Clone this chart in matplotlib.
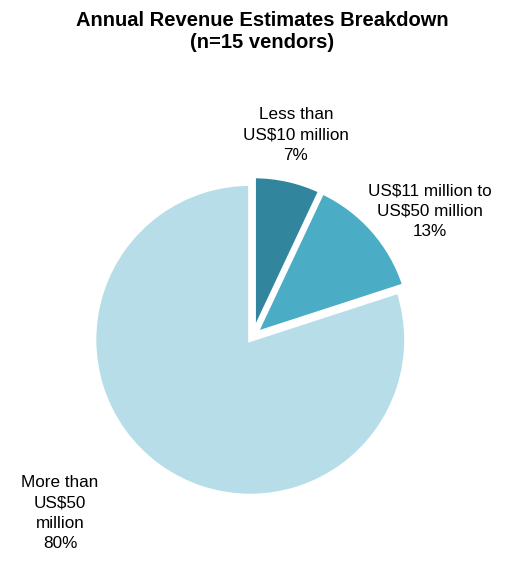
import matplotlib
matplotlib.use("Agg")
import matplotlib.pyplot as plt

plt.rcParams['font.family'] = ['Liberation Sans', 'DejaVu Sans']

categories = ["Less than\nUS$10 million", "US$11 million to\nUS$50 million", "More than\nUS$50\nmillion"]
shares = [7, 13, 80]
colors = ["#31859C", "#4BACC6", "#B7DEE8"]

W, H = 522, 563
fig = plt.figure(figsize=(W / 100, H / 100), dpi=100)

# pie centre and radius in pixels (from top-left)
cx, cy, R = 253, 336, 156
lim = 1.3
size = 2 * lim * R
ax = fig.add_axes([(cx - size / 2) / W, (H - cy - size / 2) / H, size / W, size / H])
ax.pie(shares, colors=colors, startangle=90, counterclock=False,
       explode=[0.025, 0.025, 0.03],
       wedgeprops=dict(edgecolor="white", linewidth=3))
ax.set_xlim(-lim, lim)
ax.set_ylim(-lim, lim)
ax.set_aspect("equal")
ax.axis("off")


def px(x, y):
    return x / W, 1 - y / H


# label positions (pixel centres)
label_pos = [(296, 135), (430, 211), (60, 513)]
for name, val, (x, y) in zip(categories, shares, label_pos):
    fig.text(*px(x, y), "{}\n{}%".format(name, val), ha="center", va="center",
             fontsize=12.3, linespacing=1.42, color="#000000")

fig.text(*px(262, 32), "Annual Revenue Estimates Breakdown\n(n=15 vendors)",
         ha="center", va="center", fontsize=14.5, fontweight="bold", linespacing=1.2)

fig.savefig("out.png", dpi=100)
